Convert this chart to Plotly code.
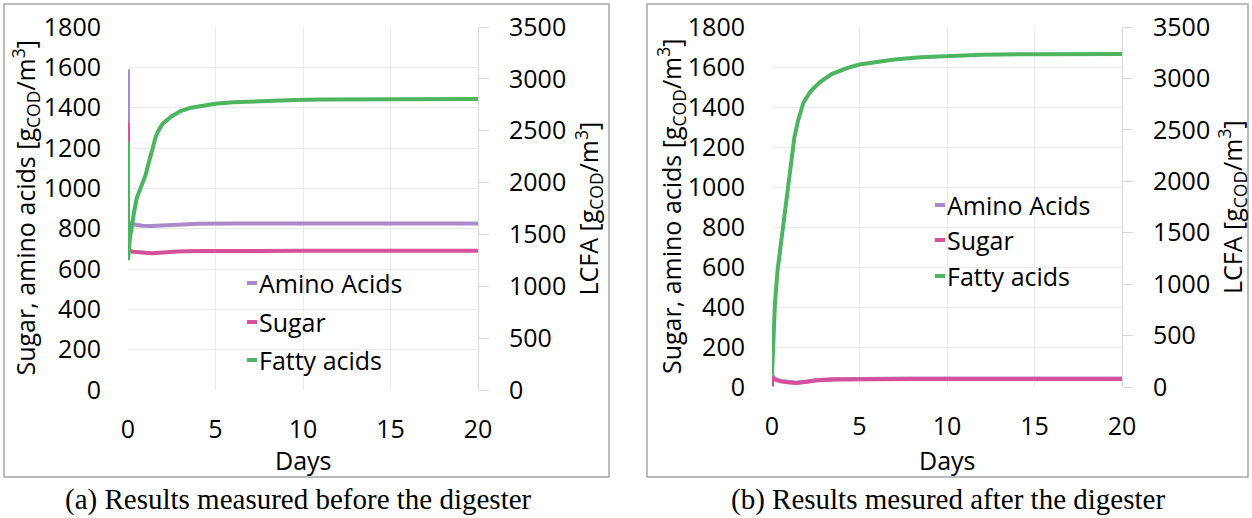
import plotly.graph_objects as go

W, H = 1252, 518

# ---------------- data ----------------
series_names = ["Amino Acids", "Sugar", "Fatty acids"]
colors = ["#a98bcb", "#d6509b", "#4db560"]

# Panel (a): before the digester
t_amino_a = [0, 0, 0.3, 0.8, 1.35, 2.0, 2.8, 4, 6, 10, 20]
amino_a = [1590, 830, 822, 815, 813, 817, 822, 825, 826, 826, 826]
t_sugar_a = [0, 0, 0.3, 0.8, 1.35, 2.0, 2.8, 4, 6, 10, 20]
sugar_a = [1325, 692, 686, 680, 678, 682, 687, 689, 690, 690, 690]
t_fatty_a = [0, 0, 0.1, 0.2, 0.35, 0.5, 0.75, 1.0, 1.2, 1.4, 1.6, 1.8, 2.0, 2.5, 3, 3.6, 4.3, 5, 6, 7,
             8, 9.5, 11, 13, 15, 20]
fatty_a = [2390, 1253, 1450, 1580, 1720, 1850, 1960, 2070, 2200, 2340, 2450, 2520, 2570, 2640, 2690,
           2722, 2745, 2760, 2774, 2783, 2790, 2796, 2800, 2803, 2805, 2805]

# Panel (b): after the digester
t_amino_b = [0, 0.15, 0.5, 1.0, 1.4, 2.0, 2.6, 3.5, 5, 8, 20]
amino_b = [60, 42, 30, 23, 21, 27, 35, 39, 41, 42, 42]
t_sugar_b = [0, 0, 0.15, 0.5, 1.0, 1.4, 2.0, 2.6, 3.5, 5, 8, 20]
sugar_b = [3, 45, 38, 28, 22, 20, 26, 34, 38, 40, 40, 40]
t_fatty_b = [0, 0.08, 0.17, 0.32, 0.55, 0.78, 1.03, 1.28, 1.5, 1.79, 2.17, 2.74, 3.41, 4.36, 5.0,
             6.0, 7.0, 8.5, 10.0, 12.0, 15.0, 20.0]
fatty_b = [120, 486, 817, 1137, 1458, 1789, 2110, 2430, 2596, 2761, 2868, 2965, 3043, 3105, 3135,
           3163, 3184, 3205, 3219, 3230, 3236, 3238]

x_ticks = [0, 5, 10, 15, 20]
left_ticks = list(range(0, 1801, 200))
right_ticks = list(range(0, 3501, 500))

left_title = "Sugar, amino acids [g<sub>COD</sub>/m<sup>3</sup>]"
right_title = "LCFA [g<sub>COD</sub>/m<sup>3</sup>]"
x_title = "Days"
captions = ["(a) Results measured before the digester", "(b) Results mesured after the digester"]

# ---------------- layout helpers ----------------
def px(x):
    return x / W

def py(y):
    return 1 - y / H

FONT = "Open Sans"
FS = 25
GRID = "#ebebeb"
AXL = "#d9d9d9"

fig = go.Figure()

panels = [
    dict(x="x", yl="y", yr="y2", data=[(t_amino_a, amino_a), (t_sugar_a, sugar_a), (t_fatty_a, fatty_a)]),
    dict(x="x2", yl="y3", yr="y4", data=[(t_amino_b, amino_b), (t_sugar_b, sugar_b), (t_fatty_b, fatty_b)]),
]

for p in panels:
    for i, (tt, vv) in enumerate(p["data"]):
        fig.add_trace(go.Scatter(
            x=tt, y=vv, mode="lines", name=series_names[i], showlegend=False,
            line=dict(color=colors[i], width=4),
            xaxis=p["x"], yaxis=p["yr"] if i == 2 else p["yl"],
        ))

# geometry (pixels)
geo = [
    dict(x0=128, x1=478, y0=27, y1=390),
    dict(x0=772, x1=1122, y0=27, y1=387),
]

def xaxis_cfg(g, anchor):
    return dict(domain=[px(g["x0"]), px(g["x1"])], anchor=anchor, range=[0, 20],
                tickvals=x_ticks, showgrid=True, gridcolor=GRID, gridwidth=1,
                zeroline=False, showline=False, ticks="", ticklabelstandoff=22,
                tickfont=dict(family=FONT, size=FS, color="#000"), automargin=False,
                fixedrange=True)

def yl_cfg(g, anchor):
    return dict(domain=[py(g["y1"]), py(g["y0"])], anchor=anchor, range=[0, 1800],
                tickvals=left_ticks, showgrid=True, gridcolor=GRID, gridwidth=1,
                zeroline=False, showline=False, ticks="", ticklabelstandoff=26,
                tickfont=dict(family=FONT, size=FS, color="#000"), automargin=False)

def yr_cfg(anchor, overl):
    return dict(overlaying=overl, side="right", anchor=anchor, range=[0, 3500],
                tickvals=right_ticks, showgrid=False, zeroline=False,
                showline=True, linecolor=AXL, linewidth=1, ticks="outside", ticklen=10,
                tickcolor=AXL, ticklabelstandoff=15,
                tickfont=dict(family=FONT, size=FS, color="#000"), automargin=False)

fig.update_layout(
    width=W, height=H, autosize=False,
    margin=dict(l=0, r=0, t=0, b=0),
    paper_bgcolor="white", plot_bgcolor="white",
    xaxis=xaxis_cfg(geo[0], "y"),
    yaxis=yl_cfg(geo[0], "x"),
    yaxis2=yr_cfg("x", "y"),
    xaxis2=xaxis_cfg(geo[1], "y3"),
    yaxis3=yl_cfg(geo[1], "x2"),
    yaxis4=yr_cfg("x2", "y3"),
)

annotations = []
shapes = []

title_pos = [
    dict(left=25, right=588, days=460, cap_x=298),
    dict(left=671, right=1232, days=460, cap_x=948),
]
legend_pos = [
    dict(x=247, xt=257, ys=[283, 322, 360]),
    dict(x=935, xt=945, ys=[205, 240, 276]),
]
boxes = [(4, 4, 609, 477), (647, 4, 1248, 477)]

for k in range(2):
    g = geo[k]
    tp = title_pos[k]
    ymid = (g["y0"] + g["y1"]) / 2
    annotations.append(dict(text=left_title, x=px(tp["left"]), y=py(ymid), xref="paper", yref="paper",
                            textangle=-90, showarrow=False, xanchor="center", yanchor="middle",
                            font=dict(family=FONT, size=FS, color="#000")))
    annotations.append(dict(text=right_title, x=px(tp["right"]), y=py(ymid), xref="paper", yref="paper",
                            textangle=-90, showarrow=False, xanchor="center", yanchor="middle",
                            font=dict(family=FONT, size=FS, color="#000")))
    annotations.append(dict(text=x_title, x=px((g["x0"] + g["x1"]) / 2), y=py(tp["days"]),
                            xref="paper", yref="paper", showarrow=False,
                            xanchor="center", yanchor="middle",
                            font=dict(family=FONT, size=FS, color="#000")))
    annotations.append(dict(text=captions[k], x=px(tp["cap_x"]), y=py(499), xref="paper", yref="paper",
                            showarrow=False, xanchor="center", yanchor="middle",
                            font=dict(family="Liberation Serif", size=29, color="#000")))
    lp = legend_pos[k]
    for i, name in enumerate(series_names):
        yy = lp["ys"][i]
        shapes.append(dict(type="line", xref="paper", yref="paper",
                           x0=px(lp["x"]), x1=px(lp["xt"]), y0=py(yy), y1=py(yy),
                           line=dict(color=colors[i], width=4)))
        annotations.append(dict(text=name, x=px(lp["xt"]), y=py(yy), xref="paper", yref="paper",
                                showarrow=False, xanchor="left", yanchor="middle",
                                font=dict(family=FONT, size=FS, color="#000")))
    bx0, by0, bx1, by1 = boxes[k]
    shapes.append(dict(type="rect", xref="paper", yref="paper",
                       x0=px(bx0), x1=px(bx1), y0=py(by1), y1=py(by0),
                       line=dict(color="#a6a6a6", width=1.5), fillcolor="rgba(0,0,0,0)", layer="below"))

fig.update_layout(annotations=annotations, shapes=shapes)

fig.write_html("out.html", config=dict(displayModeBar=False))
